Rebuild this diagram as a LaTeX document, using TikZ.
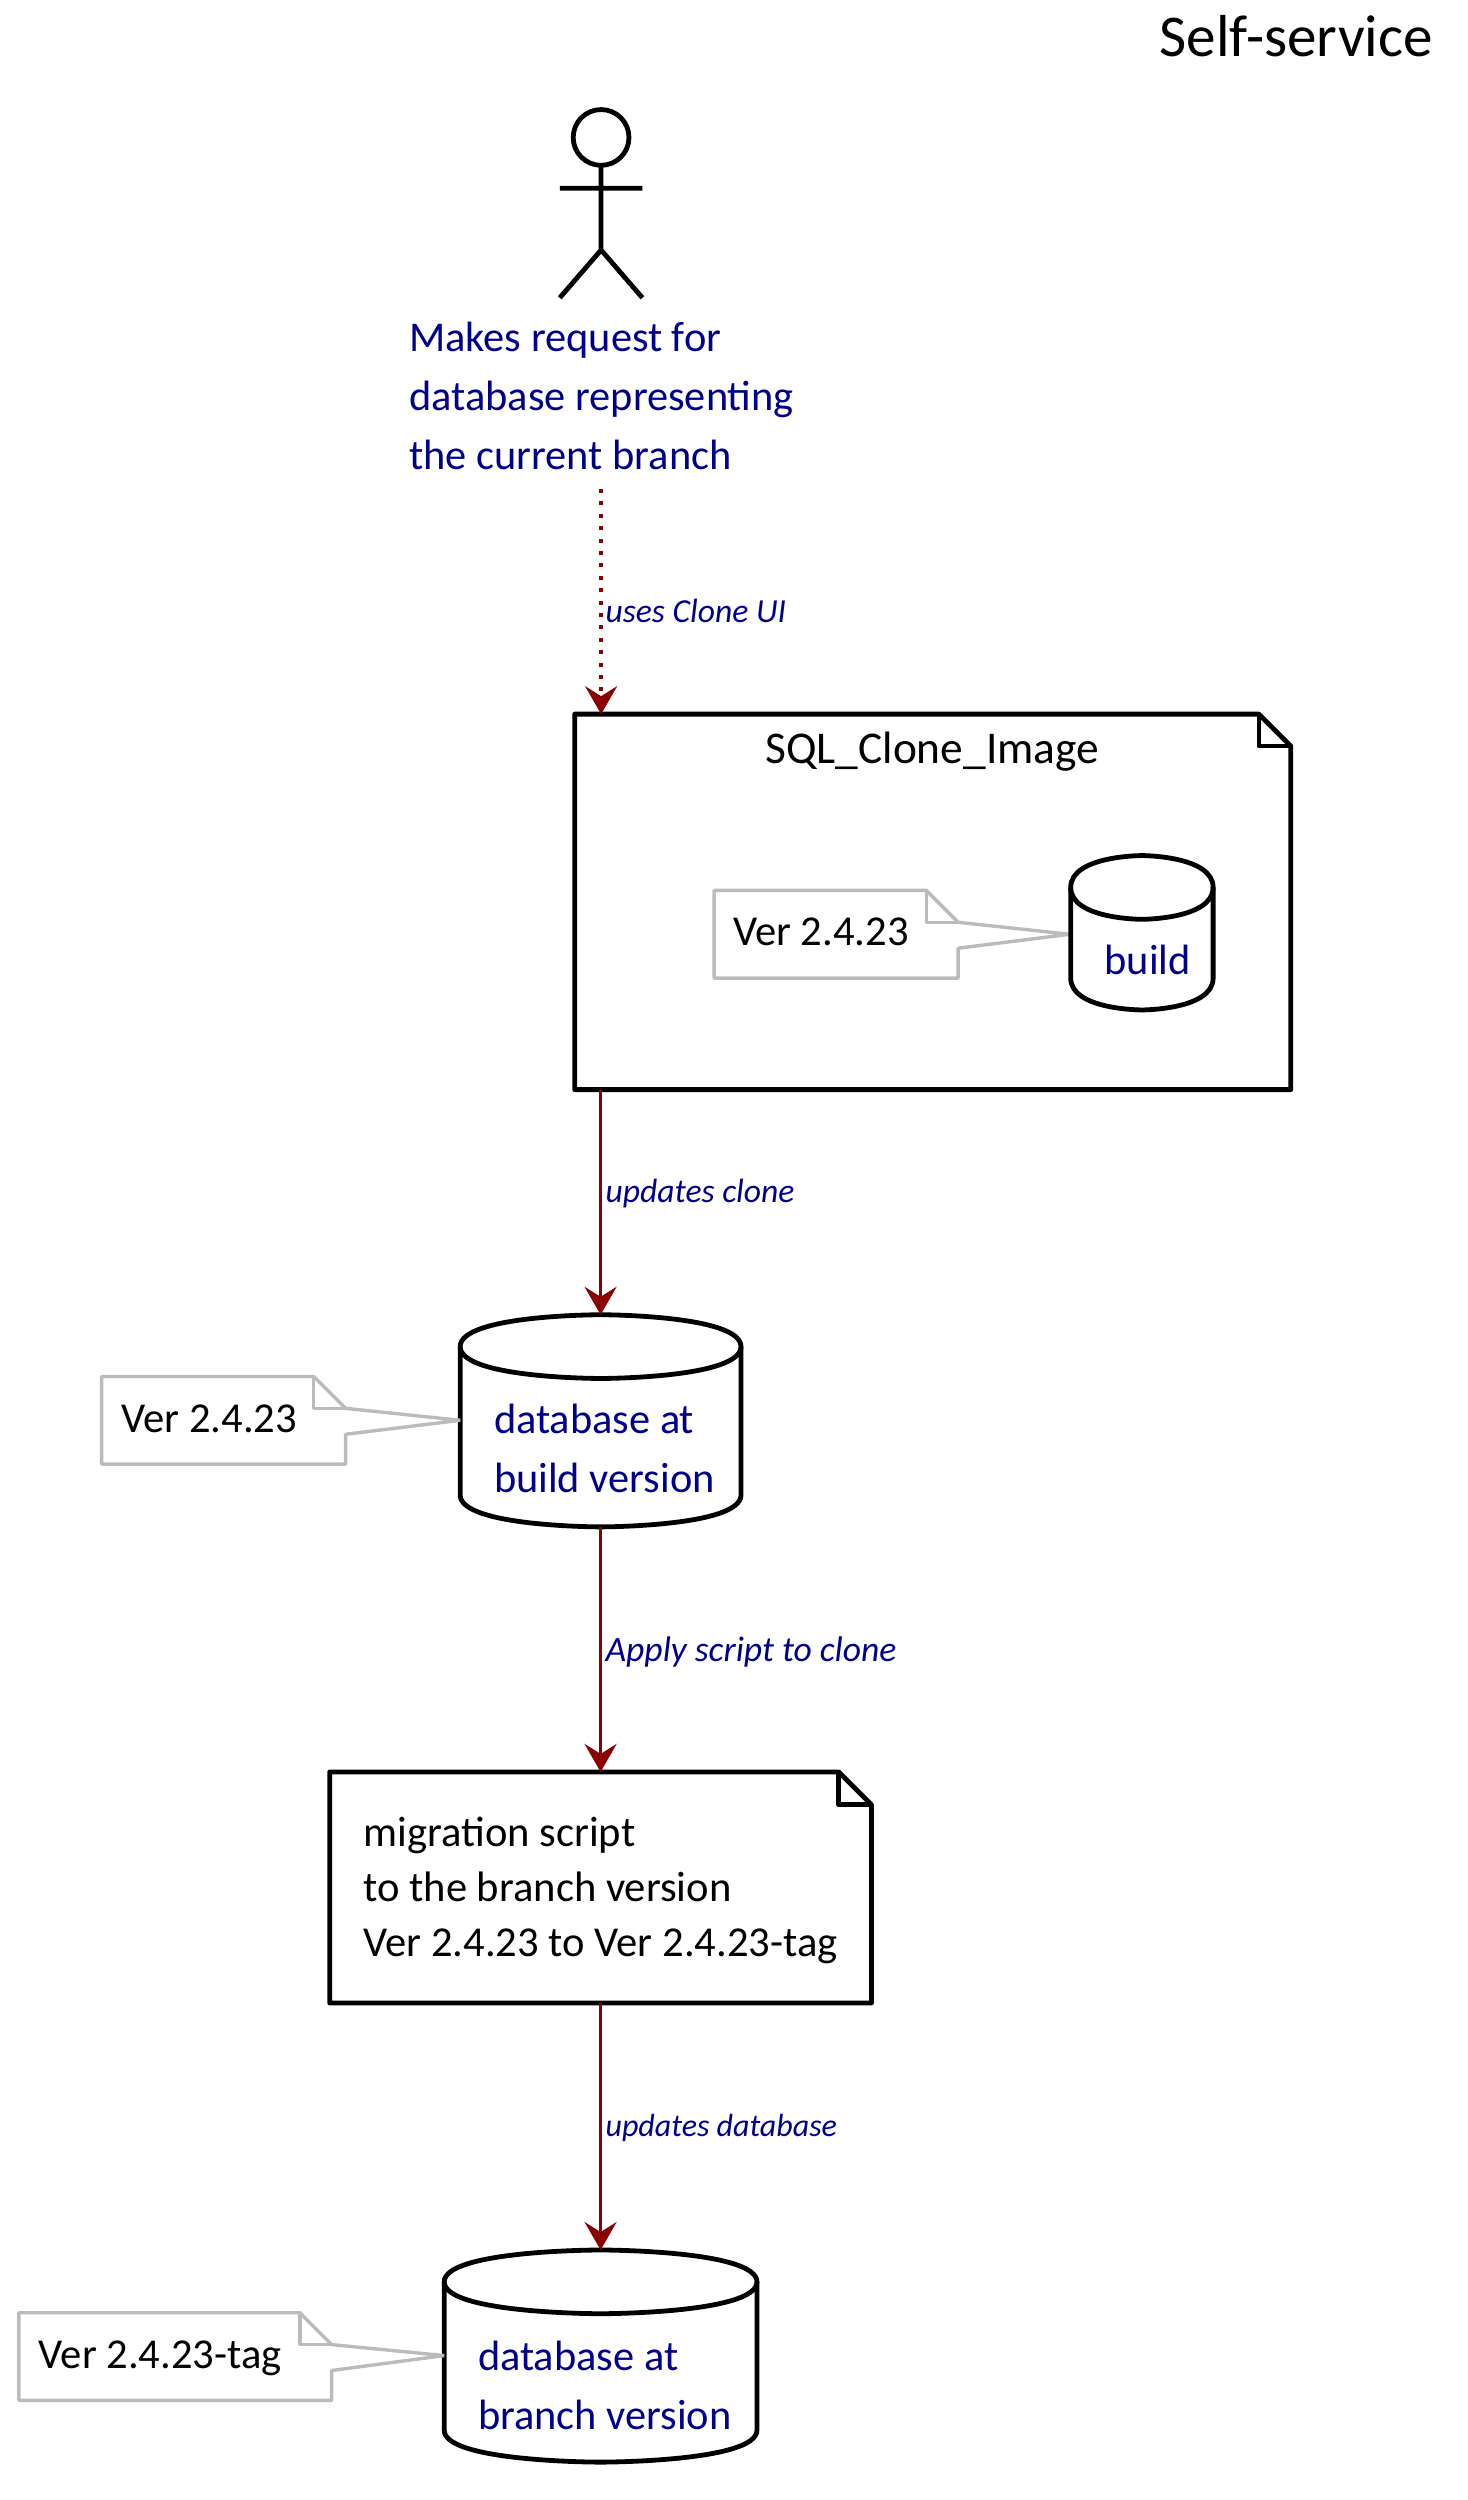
\documentclass[tikz,border=0pt]{standalone}
\usepackage{fontspec}
\usetikzlibrary{arrows.meta}
\setmainfont{Carlito}
\definecolor{inkblue}{HTML}{00008B}
\definecolor{inkred}{HTML}{8B0000}
\definecolor{notegrey}{HTML}{BBBBBB}
\newcommand\dbshape[5]{% x y w h d
  \pgfmathsetmacro\dbm{#1+#3/2}\pgfmathsetmacro\dbr{#1+#3}\pgfmathsetmacro\dbb{#2+#4}
  \pgfmathsetmacro\dbt{#2+#5}\pgfmathsetmacro\dbtt{#2+2*#5}\pgfmathsetmacro\dbbb{#2+#4-#5}
  \draw[thickline] (#1,\dbt) .. controls (#1,#2) and (\dbm,#2) .. (\dbm,#2)
    .. controls (\dbm,#2) and (\dbr,#2) .. (\dbr,\dbt) -- (\dbr,\dbbb)
    .. controls (\dbr,\dbb) and (\dbm,\dbb) .. (\dbm,\dbb)
    .. controls (\dbm,\dbb) and (#1,\dbb) .. (#1,\dbbb) -- cycle;
  \draw[thickline] (#1,\dbt) .. controls (#1,\dbtt) and (\dbm,\dbtt) .. (\dbm,\dbtt)
    .. controls (\dbm,\dbtt) and (\dbr,\dbtt) .. (\dbr,\dbt);
}
% x y w h tipx tipy tail-bottom
\newcommand\notepath[7]{%
  \pgfmathsetmacro\nr{#1+#3}\pgfmathsetmacro\nb{#2+#4}
  \pgfmathsetmacro\fx{\nr-32}\pgfmathsetmacro\fy{#2+32}
  \draw[noteline] (#1,#2) -- (\fx,#2) -- (\nr,\fy) -- (#5,#6) -- (\nr,#7) -- (\nr,\nb) -- (#1,\nb) -- cycle;
  \draw[noteline] (\fx,#2) -- (\fx,\fy) -- (\nr,\fy);
}
\tikzset{
  x=0.498pt,y=-0.498pt,
  thickline/.style={draw=black,line width=2.4pt,line join=round},
  noteline/.style={draw=notegrey,line width=1.7pt,line join=bevel},
  flowline/.style={draw=inkred,line width=1.6pt,-{Stealth[length=14pt,width=16pt,inset=5pt,fill=inkred]}},
  dotline/.style={flowline,dash pattern=on 2pt off 4.2pt},
  hook/.style={inner sep=0pt,outer sep=0pt},
  lbl/.style={inner sep=0pt,outer sep=0pt,anchor=west,align=left},
  bluetext/.style={lbl,text=inkblue,font=\fontsize{21.2}{29.5}\selectfont},
  blacktext/.style={lbl,text=black,font=\fontsize{21.3}{27.7}\selectfont},
  edgetext/.style={lbl,text=inkblue,font=\fontsize{16.8}{18}\selectfont\itshape},
}
\begin{document}
\begin{tikzpicture}
\path[use as bounding box] (0pt,0pt) rectangle (733.5pt,-1250pt);
\node[anchor=east,inner sep=0pt,font=\fontsize{29.6}{34}\selectfont] (title) at (1439,36) {Self-service};

% actor
\node[hook,minimum width=41.5pt,minimum height=95pt] (actor) at (603.5,204) {};
\draw[thickline] (603.5,138) circle (28);
\draw[thickline] (603.5,166) -- (603.5,251) (562,189) -- (645,189)
  (562,299) -- (603.5,251) -- (645,299);
\node[bluetext] (req) at (411,398) {Makes request for\\database representing\\the current branch};
\coordinate (dotstart) at (603.5,491);

% package
\node[hook,minimum width=358pt,minimum height=187.7pt] (pkg) at (936.5,905.5) {};
\draw[thickline] (577,717) -- (1264,717) -- (1296,749) -- (1296,1094) -- (577,1094) -- cycle;
\draw[thickline] (1264,717) -- (1264,749) -- (1296,749);
\node[lbl,anchor=center,font=\fontsize{22.7}{26}\selectfont] (pkgtitle) at (936,755) {SQL\_Clone\_Image};

% note 1 + build
\notepath{717}{894}{245}{88}{1074}{938}{952}
\node[blacktext] (n1) at (736,936) {Ver 2.4.23};
\node[hook,minimum width=71.2pt,minimum height=77.2pt] (dbbuild) at (1146.5,936.5) {};
\dbshape{1075}{859}{143}{155}{32}
\node[bluetext] (t1) at (1109,964) {build};

% db1 + note 2
\node[hook,minimum width=140.4pt,minimum height=106pt] (db1) at (603,1426.5) {};
\dbshape{462}{1320}{282}{213}{32}
\notepath{102}{1382}{245}{88}{462}{1426}{1440}
\node[blacktext] (n2) at (122,1425) {Ver 2.4.23};
\node[bluetext] (t2) at (496,1454) {database at\\build version};

% script note
\node[hook,minimum width=271pt,minimum height=115.5pt] (mig) at (603,1895) {};
\draw[thickline] (331,1779) -- (842,1779) -- (875,1812) -- (875,2011) -- (331,2011) -- cycle;
\draw[thickline] (842,1779) -- (842,1812) -- (875,1812);
\node[blacktext] (t3) at (365,1898) {migration script\\to the branch version\\Ver 2.4.23 to Ver 2.4.23-tag};

% db2 + note 3
\node[hook,minimum width=156.4pt,minimum height=106pt] (db2) at (603,2365.5) {};
\dbshape{446}{2259}{314}{213}{32}
\notepath{19}{2322}{314}{88}{446}{2365}{2380}
\node[blacktext] (n3) at (39,2368) {Ver 2.4.23-tag};
\node[bluetext] (t4) at (480,2395) {database at\\branch version};

% connectors
\draw[dotline] (dotstart) -- (dotstart |- pkg.north);
\draw[flowline] (pkg.south -| db1.north) -- (db1.north);
\draw[flowline] (db1.south) -- (mig.north);
\draw[flowline] (mig.south) -- (db2.north);

\node[edgetext] (e1) at (608,613) {uses Clone UI};
\node[edgetext] (e2) at (608,1198) {updates clone};
\node[edgetext,font=\fontsize{17.8}{18}\selectfont\itshape] (e3) at (608,1659) {Apply script to clone};
\node[edgetext,font=\fontsize{16}{18}\selectfont\itshape] (e4) at (608,2136) {updates database};
\end{tikzpicture}
\end{document}
